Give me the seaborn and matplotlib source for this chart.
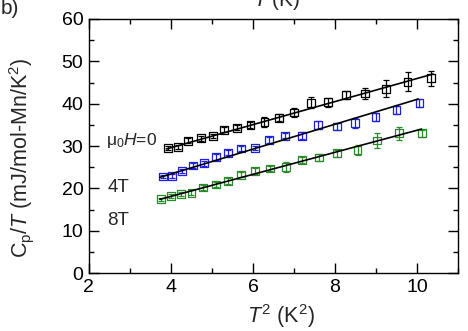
import numpy as np
import pandas as pd
import matplotlib
matplotlib.use("Agg")
import matplotlib.pyplot as plt
import seaborn as sns

# ---- data ----
x_0T = [3.93, 4.18, 4.42, 4.73, 5.02, 5.30, 5.62, 5.94, 6.28, 6.64, 7.00, 7.41, 7.83, 8.27, 8.74, 9.24, 9.77, 10.34]
y_0T = [29.5, 29.8, 31.2, 31.8, 32.4, 33.8, 34.3, 34.9, 35.7, 36.7, 37.9, 40.2, 40.3, 42.0, 42.4, 43.5, 45.2, 46.0]
e_0T = [0.5, 0.5, 0.6, 0.5, 0.5, 0.6, 0.6, 0.7, 1.2, 0.8, 1.0, 1.3, 1.0, 1.0, 1.2, 2.0, 2.2, 1.8]

x_4T = [3.81, 4.03, 4.28, 4.54, 4.80, 5.10, 5.40, 5.71, 6.05, 6.40, 6.78, 7.19, 7.59, 8.04, 8.49, 8.99, 9.50, 10.06]
y_4T = [22.8, 22.9, 24.1, 25.4, 25.9, 27.5, 28.4, 29.4, 29.6, 31.4, 32.4, 32.4, 35.0, 34.6, 35.4, 36.9, 38.5, 40.1]
e_4T = [0.4, 0.5, 0.5, 0.6, 0.6, 0.7, 0.6, 0.6, 0.5, 0.7, 0.6, 0.8, 1.0, 0.8, 1.2, 1.0, 0.9, 1.0]

x_8T = [3.76, 4.00, 4.24, 4.50, 4.79, 5.09, 5.40, 5.70, 6.05, 6.41, 6.80, 7.19, 7.62, 8.06, 8.55, 9.02, 9.57, 10.13]
y_8T = [17.4, 18.2, 18.7, 19.0, 20.2, 20.9, 21.7, 23.2, 24.1, 24.7, 25.1, 26.7, 27.3, 28.3, 29.1, 31.3, 33.0, 33.0]
e_8T = [0.4, 0.5, 0.5, 0.5, 0.5, 0.5, 0.7, 0.6, 0.7, 0.6, 1.2, 0.6, 0.8, 0.8, 1.2, 1.8, 1.6, 0.8]

# linear fit lines (end points)
fit_x_0T = [3.89, 10.39]
fit_y_0T = [29.3, 47.0]
fit_x_4T = [3.73, 10.03]
fit_y_4T = [22.6, 41.1]
fit_x_8T = [3.73, 10.11]
fit_y_8T = [17.4, 34.0]

field_labels = ["μ$_0$$H$=0", "4T", "8T"]
x_ticks = [2, 4, 6, 8, 10]
y_ticks = [0, 10, 20, 30, 40, 50, 60]

# ---- style ----
sns.set_theme(style="ticks")
plt.rcParams["font.family"] = ["Liberation Sans", "DejaVu Sans"]
plt.rcParams["mathtext.fontset"] = "custom"
plt.rcParams["mathtext.rm"] = "Liberation Sans"
plt.rcParams["mathtext.it"] = "Liberation Sans:italic"
plt.rcParams["mathtext.bf"] = "Liberation Sans:bold"

fig = plt.figure(figsize=(4.68, 3.31), dpi=100)
ax = fig.add_axes([0.190, 0.1752, 0.7886, 0.7674])

series = [
    (x_0T, y_0T, e_0T, fit_x_0T, fit_y_0T, "black"),
    (x_4T, y_4T, e_4T, fit_x_4T, fit_y_4T, "#1f1fe0"),
    (x_8T, y_8T, e_8T, fit_x_8T, fit_y_8T, "#2a8a2a"),
]
for xs, ys, es, fx, fy, col in series:
    df = pd.DataFrame({"x": xs, "y": ys})
    ax.errorbar(xs, ys, yerr=es, fmt="none", ecolor=col, elinewidth=0.9,
                capsize=2.5, capthick=0.9, zorder=2)
    sns.scatterplot(data=df, x="x", y="y", marker="s", s=32, facecolor="none",
                    edgecolor=col, linewidth=0.9, ax=ax, zorder=3, legend=False)
    sns.lineplot(x=fx, y=fy, color="black", linewidth=1.2, ax=ax, zorder=4)

ax.text(2.42, 31.4, field_labels[0], fontsize=12.5, ha="left", va="center")
ax.text(2.72, 20.3, field_labels[1], fontsize=13.5, ha="center", va="center")
ax.text(2.72, 12.5, field_labels[2], fontsize=13.5, ha="center", va="center")

ax.set_xlim(2, 11)
ax.set_ylim(0, 60)
ax.set_xticks(x_ticks)
ax.set_yticks(y_ticks)
ax.set_xticks([3, 5, 7, 9, 11], minor=True)
ax.set_yticks([5, 15, 25, 35, 45, 55], minor=True)
ax.tick_params(which="both", direction="in", top=True, right=True, labelsize=14,
               width=1.0, colors="black")
ax.tick_params(which="major", length=7, pad=4)
ax.tick_params(which="minor", length=3.5)
for sp in ax.spines.values():
    sp.set_linewidth(1.0)
    sp.set_color("black")

ax.set_xlabel("$T^2$ (K$^2$)", fontsize=15.5)
ax.xaxis.set_label_coords((281 - 89) / 369, (273 - 302) / 254)
ax.set_ylabel("C$_\\mathrm{p}$/$T$ (mJ/mol-Mn/K$^2$)", fontsize=15.5)
ax.yaxis.set_label_coords((36 - 89) / 369, (273 - 158) / 254)

fig.text(0.002, 1 - 9 / 331, "b)", fontsize=15, ha="left", va="center")
fig.text(277 / 468, 1.0, "$T$ (K)", fontsize=15, ha="center", va="center")

fig.savefig("out.png", dpi=100)
